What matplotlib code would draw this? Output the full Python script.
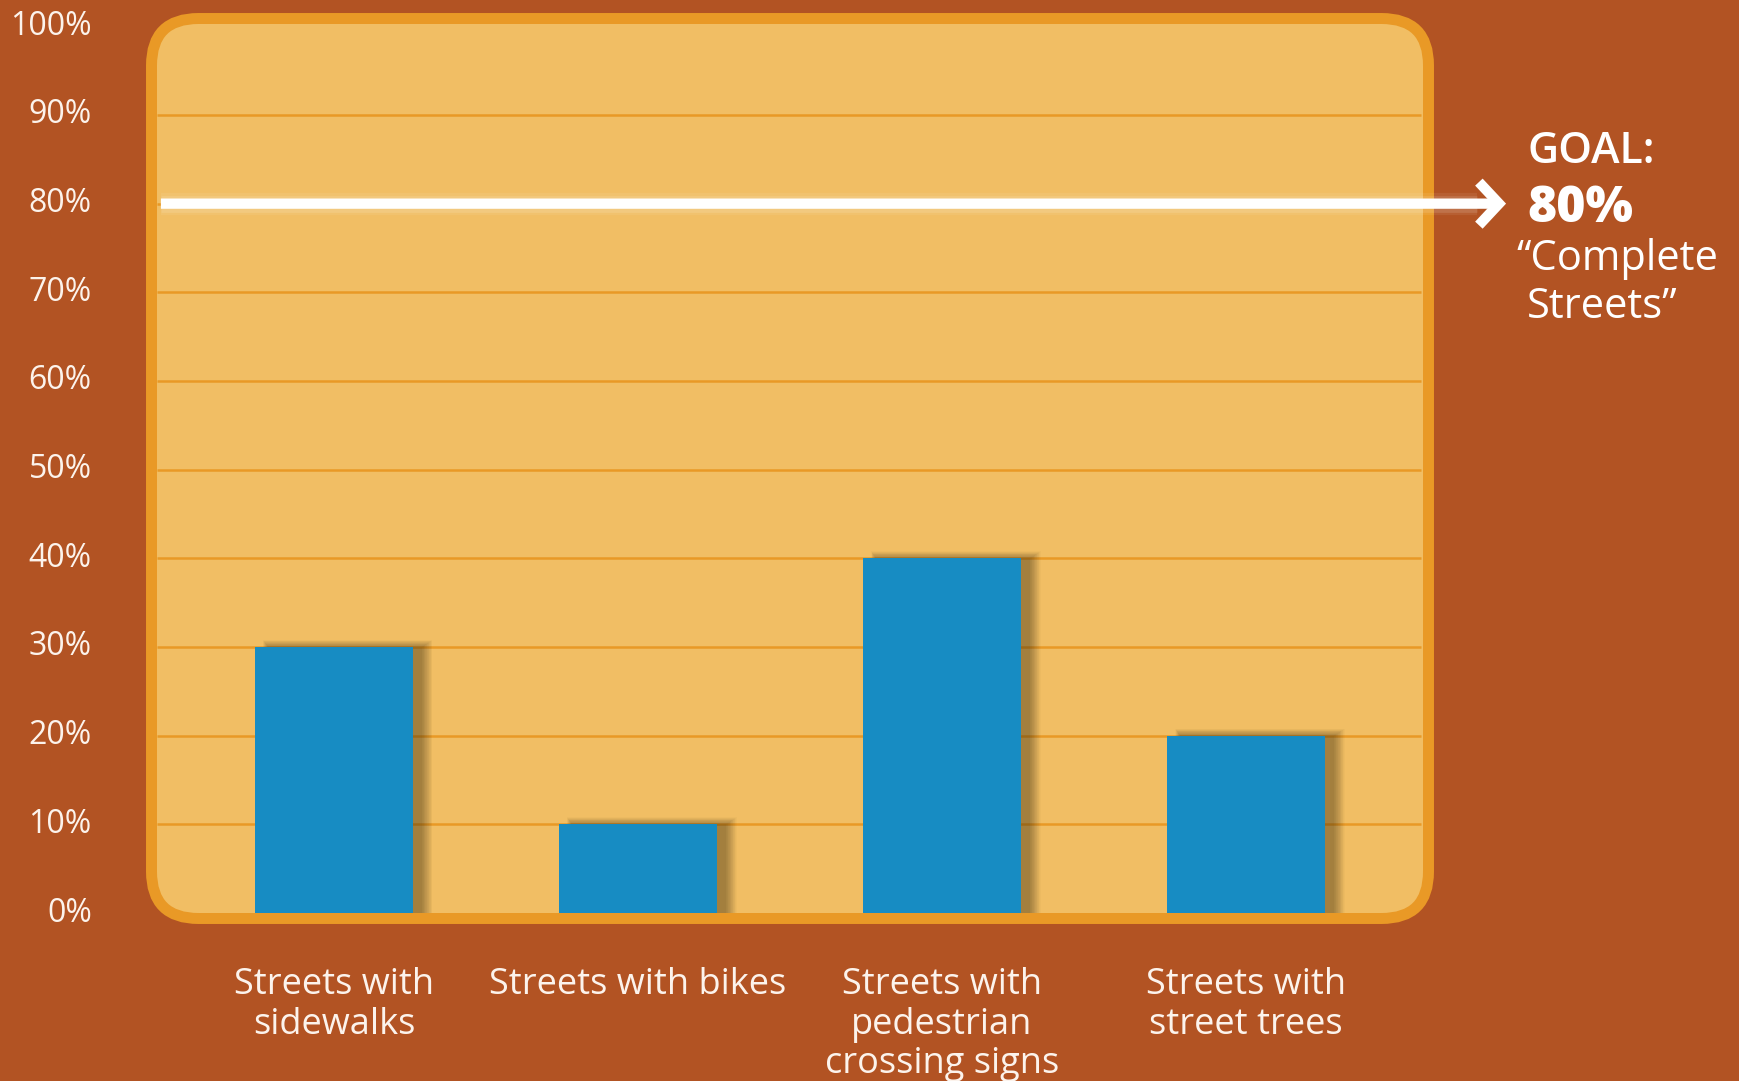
import matplotlib.pyplot as plt
from matplotlib.patches import FancyBboxPatch, Rectangle
import matplotlib.transforms as mtransforms

categories = ['Streets with\nsidewalks', 'Streets with bikes',
              'Streets with\npedestrian\ncrossing signs', 'Streets with\nstreet trees']
values = [30, 10, 40, 20]
goal = 80
yticks = list(range(0, 101, 10))
ytick_labels = [f'{t}%' for t in yticks]

BG = '#B25323'
PANEL = '#F1BE64'
ORANGE = '#E99926'
BLUE = '#178CC3'
TXT = '#FCF3EC'

plt.rcParams['font.family'] = ['Open Sans', 'DejaVu Sans']

W, H = 1739, 1081
fig = plt.figure(figsize=(W / 100, H / 100), dpi=100)
fig.patch.set_facecolor(BG)

# axes box = outer edge of the rounded panel
ax = fig.add_axes([146 / W, 1 - 924 / H, 1288 / W, 911 / H])
ax.set_facecolor('none')
for s in ax.spines.values():
    s.set_visible(False)

# rounded panel, drawn in inches so the corners stay round
pos = ax.get_position()
fw, fh = fig.get_size_inches()
x0, y0, w, h = pos.x0 * fw, pos.y0 * fh, pos.width * fw, pos.height * fh
inset = 0.055
panel = FancyBboxPatch((x0 + inset, y0 + inset), w - 2 * inset, h - 2 * inset,
                       boxstyle='round,pad=0,rounding_size=0.47',
                       transform=fig.dpi_scale_trans, fc=PANEL, ec=ORANGE,
                       lw=7.9, clip_on=False, zorder=0)
ax.add_patch(panel)

ax.set_xlim(-0.618, 3.618)
ax.set_ylim(-1.24, 101.5)

# grid lines inside the panel
ax.hlines(yticks[1:-1], -0.582, 3.576, colors=ORANGE, lw=1.8, zorder=1)

# bars with a soft shadow
x = list(range(len(values)))
bw = 0.52
px_x = 304.0   # pixels per category
px_y = 8.87    # pixels per percent
off = mtransforms.offset_copy(ax.transData, fig=fig, x=8, y=0, units='dots')
n = 18
for xi, v in zip(x, values):
    for k in range(n):
        grow = (n - k) * 0.8
        ax.add_patch(Rectangle((xi - bw / 2 + (6 - grow * 0.4) / px_x, 0),
                               bw + (grow * 1.2 - 6) / px_x, v + (grow * 0.55 - 1) / px_y,
                               transform=off, fc='#3c3018', ec='none',
                               alpha=0.027, zorder=2))
ax.bar(x, values, width=bw, color=BLUE, zorder=3)

# goal arrow with glow
for lw, a in [(16, 0.07), (12, 0.12)]:
    ax.plot([-0.569, 3.76], [goal, goal], color='white', lw=lw, alpha=a,
            solid_capstyle='butt', clip_on=False, zorder=4)
ax.annotate('', xy=(3.855, goal), xytext=(-0.569, goal),
            arrowprops=dict(arrowstyle='->,head_length=1.45,head_width=1.55',
                            lw=7.4, color='white', shrinkA=0, shrinkB=0,
                            joinstyle='miter', capstyle='butt'),
            annotation_clip=False, zorder=5)

ax.text(3.924, 84.6, 'GOAL:', color='white', fontsize=31, fontweight='semibold',
        ha='left', va='baseline', clip_on=False)
ax.text(3.924, 77.9, f'{goal}%', color='white', fontsize=36, fontweight='heavy',
        ha='left', va='baseline', clip_on=False)
ax.text(3.89, 72.5, '\u201cComplete', color='white', fontsize=30,
        ha='left', va='baseline', clip_on=False)
ax.text(3.924, 67.1, 'Streets\u201d', color='white', fontsize=30,
        ha='left', va='baseline', clip_on=False)

ax.set_yticks(yticks)
ax.set_yticklabels(ytick_labels, fontsize=23, color=TXT)
ax.set_xticks(x)
ax.set_xticklabels(categories, fontsize=26, color=TXT, linespacing=1.13)
ax.tick_params(axis='y', length=0, pad=39)
ax.tick_params(axis='x', length=0, pad=31)
lift = mtransforms.ScaledTranslation(0, 4 / 100, fig.dpi_scale_trans)
for lab in ax.get_yticklabels():
    lab.set_transform(lab.get_transform() + lift)

fig.savefig('out.png', dpi=100, facecolor=BG)
